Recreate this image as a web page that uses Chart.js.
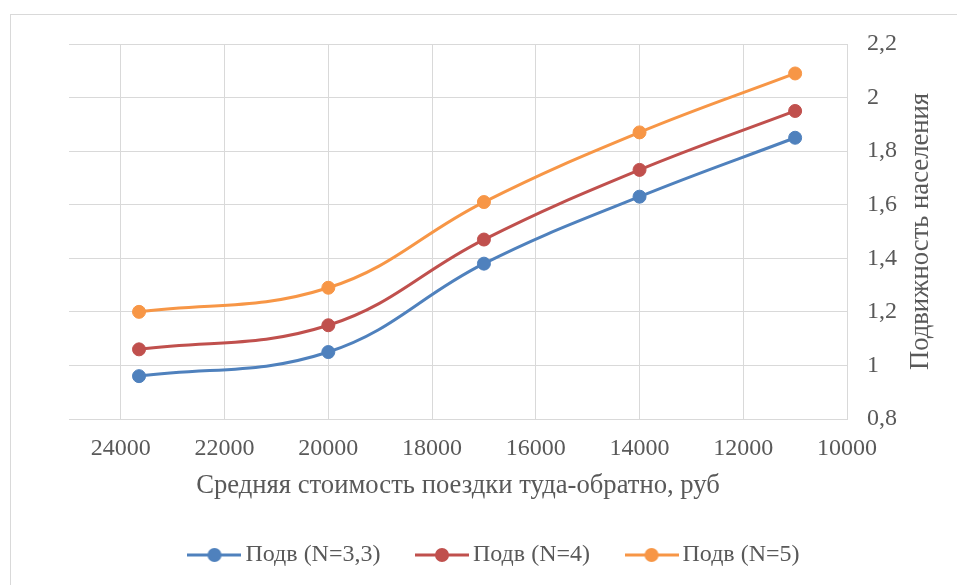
<!DOCTYPE html>
<html>
<head>
<meta charset="utf-8">
<script src="https://cdn.jsdelivr.net/npm/chart.js@4/dist/chart.umd.min.js"></script>
<style>
  html, body { margin: 0; padding: 0; background: #ffffff; }
  #wrap { position: relative; width: 957px; height: 585px; overflow: hidden; }
  #frame { position: absolute; left: 10px; top: 14px; width: 1000px; height: 700px;
           border-left: 1px solid #D9D9D9; border-top: 1px solid #D9D9D9; }
  canvas { position: absolute; left: 0; top: 0; }
</style>
</head>
<body>
<div id="wrap">
  <div id="frame"></div>
  <canvas id="chart" width="957" height="585"></canvas>
</div>
<script>
// Average round-trip cost (rub) and population mobility for three N values
const costs = [23650, 20000, 17000, 14000, 11000];
const mobilityN33 = [0.96, 1.05, 1.38, 1.63, 1.85];
const mobilityN4  = [1.06, 1.15, 1.47, 1.73, 1.95];
const mobilityN5  = [1.20, 1.29, 1.61, 1.87, 2.09];
const seriesLabels = ['Подв (N=3,3)', 'Подв (N=4)', 'Подв (N=5)'];
const seriesColors = ['#4F81BD', '#C0504D', '#F79646'];
const xTickValues = [24000, 22000, 20000, 18000, 16000, 14000, 12000, 10000];
const xTitle = 'Средняя стоимость поездки туда-обратно, руб';
const yTitle = 'Подвижность населения';

const FONT = "'Liberation Serif', 'Times New Roman', serif";
const TEXT = '#595959';
const GRID = '#D9D9D9';

// Legend marker: short line with a dot in the middle
function legendMarker(color) {
  const c = document.createElement('canvas');
  c.width = 54; c.height = 16;
  const g = c.getContext('2d');
  g.strokeStyle = color; g.lineWidth = 3; g.lineCap = 'butt';
  g.beginPath(); g.moveTo(0, 8); g.lineTo(54, 8); g.stroke();
  g.fillStyle = color;
  g.beginPath(); g.arc(27, 8, 7, 0, Math.PI * 2); g.fill();
  return c;
}

function toPoints(values) {
  return costs.map((x, i) => ({ x: x, y: values[i] }));
}

const allSeries = [mobilityN33, mobilityN4, mobilityN5];
const datasets = allSeries.map((vals, i) => ({
  label: seriesLabels[i],
  data: toPoints(vals),
  borderColor: seriesColors[i],
  backgroundColor: seriesColors[i],
  borderWidth: 3,
  pointStyle: 'circle',
  pointRadius: 6.5,
  pointBorderWidth: 1,
  pointBackgroundColor: seriesColors[i],
  pointBorderColor: seriesColors[i],
  tension: 0.4
}));

// Right-hand axis title, reading bottom to top
const yTitlePlugin = {
  id: 'yTitleRight',
  afterDraw(chart) {
    const a = chart.chartArea;
    const ctx = chart.ctx;
    ctx.save();
    ctx.translate(920.5, (a.top + a.bottom) / 2);
    ctx.rotate(-Math.PI / 2);
    ctx.font = '26.67px ' + FONT;
    ctx.fillStyle = TEXT;
    ctx.textAlign = 'center';
    ctx.textBaseline = 'middle';
    ctx.fillText(yTitle, 0, 0);
    ctx.restore();
  }
};

new Chart(document.getElementById('chart'), {
  type: 'line',
  data: { datasets: datasets },
  plugins: [yTitlePlugin],
  options: {
    responsive: false,
    animation: false,
    events: [],
    layout: { padding: { left: 38, right: 0, top: 44, bottom: 8 } },
    scales: {
      x: {
        type: 'linear',
        position: 'bottom',
        reverse: true,
        min: 10000,
        max: 25000,
        afterFit(s) { s.height = 81.5; },
        afterBuildTicks(s) { s.ticks = xTickValues.map(v => ({ value: v })); },
        ticks: {
          padding: 15,
          color: TEXT,
          font: { family: FONT, size: 24 },
          maxRotation: 0,
          autoSkip: false,
          callback: v => String(v)
        },
        grid: { color: GRID, lineWidth: 1, drawTicks: false },
        border: { color: GRID, width: 1 },
        title: {
          display: true,
          text: xTitle,
          color: TEXT,
          font: { family: FONT, size: 26.67 },
          padding: { top: 0, bottom: -1.5 }
        }
      },
      y: {
        position: 'right',
        min: 0.8,
        max: 2.2,
        afterFit(s) { s.width = 110; },
        ticks: {
          stepSize: 0.2,
          padding: 20,
          color: TEXT,
          font: { family: FONT, size: 24 },
          callback: v => String(Math.round(v * 10) / 10).replace('.', ',')
        },
        grid: { color: GRID, lineWidth: 1, drawTicks: false },
        border: { color: GRID, width: 1 }
      },
      spacer: {
        position: 'left',
        display: true,
        afterFit(s) { s.width = 31; },
        ticks: { display: false },
        grid: { display: false, drawTicks: false },
        border: { display: false }
      }
    },
    plugins: {
      legend: {
        display: true,
        position: 'bottom',
        labels: {
          usePointStyle: true,
          pointStyleWidth: 38,
          padding: 42.5,
          color: TEXT,
          font: { family: FONT, size: 24 },
          generateLabels(chart) {
            return chart.data.datasets.map((d, i) => ({
              text: d.label,
              fillStyle: d.borderColor,
              strokeStyle: d.borderColor,
              lineWidth: 0,
              pointStyle: legendMarker(d.borderColor),
              hidden: false,
              datasetIndex: i,
              fontColor: TEXT
            }));
          }
        }
      },
      tooltip: { enabled: false }
    }
  }
});
</script>
</body>
</html>
